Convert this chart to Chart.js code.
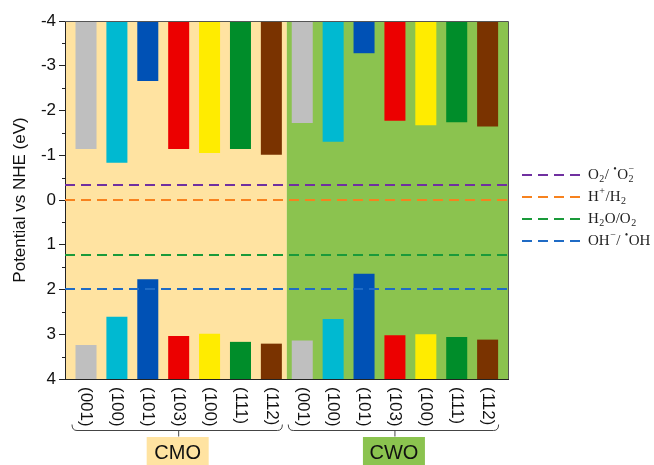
<!DOCTYPE html>
<html>
<head>
<meta charset="utf-8">
<script src="https://cdn.jsdelivr.net/npm/chart.js@4"></script>
<style>
  html, body { margin: 0; padding: 0; background: #fff; }
  #wrap { width: 654px; height: 465px; }
</style>
</head>
<body>
<div id="wrap"><canvas id="myChart" width="654" height="465"></canvas></div>
<script>
// facet labels, CMO first then CWO
const facets = ['(001)', '(100)', '(101)', '(103)', '(100)', '(111)', '(112)',
                '(001)', '(100)', '(101)', '(103)', '(100)', '(111)', '(112)'];
const groups = ['CMO', 'CWO'];
// conduction band edges (eV vs NHE)
const cbEdge = [-1.14, -0.83, -2.66, -1.14, -1.05, -1.14, -1.01,
                -1.72, -1.30, -3.28, -1.77, -1.67, -1.74, -1.64];
// valence band edges
const vbEdge = [3.24, 2.61, 1.77, 3.04, 2.99, 3.17, 3.21,
                3.14, 2.66, 1.65, 3.02, 3.00, 3.06, 3.12];
const yTicks = [-4, -3, -2, -1, 0, 1, 2, 3, 4];
// redox potentials
const potentials = [-0.33, 0, 1.23, 1.99];

const barColors = ['#BFBFBF', '#00B9D1', '#0051B5', '#EC0000', '#FFEC00', '#008D2A', '#7A3300'];
const lineColors = ['#7030A0', '#F7821E', '#1A9A3A', '#1F6BC5'];
const groupColors = ['#FFE3A1', '#8BC34F'];

// legend labels with sub/superscripts
const potentialLabels = [
    [{t: 'O', sub: '2'}, {t: '/ '}, {t: '', sup: '•'}, {t: 'O', sub: '2', sup: '−'}],
    [{t: 'H', sup: '+'}, {t: '/H', sub: '2'}],
    [{t: 'H', sub: '2'}, {t: 'O/O', sub: '2'}],
    [{t: 'OH', sup: '−'}, {t: '/ '}, {t: '', sup: '•'}, {t: 'OH'}]
];

const sans = "'Liberation Sans', Arial, sans-serif";
const serif = "'Liberation Serif', 'DejaVu Serif', serif";

const drawRich = (ctx, parts, x, y, size) => {
    ctx.textBaseline = 'middle';
    ctx.textAlign = 'left';
    parts.forEach((p) => {
        ctx.font = `${size}px ${serif}`;
        ctx.fillText(p.t, x, y);
        x += ctx.measureText(p.t).width;
        let w = 0;
        ctx.font = `${Math.round(size * 0.68)}px ${serif}`;
        if (p.sub) {
            ctx.fillText(p.sub, x + 0.5, y + size * 0.3);
            w = Math.max(w, ctx.measureText(p.sub).width);
        }
        if (p.sup) {
            ctx.fillText(p.sup, x + 0.5, y - size * 0.38);
            w = Math.max(w, ctx.measureText(p.sup).width);
        }
        x += w ? w + 1 : 0;
    });
};

const deco = {
    id: 'deco',
    beforeDraw(chart) {
        const {ctx, chartArea: a, scales: {x}} = chart;
        const split = x.getPixelForValue(6.5);
        ctx.save();
        ctx.fillStyle = groupColors[0];
        ctx.fillRect(a.left, a.top, split - a.left, a.bottom - a.top);
        ctx.fillStyle = groupColors[1];
        ctx.fillRect(split, a.top, a.right - split, a.bottom - a.top);
        ctx.restore();
    },
    afterDatasetsDraw(chart) {
        const {ctx, chartArea: a, scales: {y}} = chart;
        ctx.save();
        ctx.lineWidth = 2;
        ctx.setLineDash([10, 6]);
        potentials.forEach((v, i) => {
            const py = Math.round(y.getPixelForValue(v));
            ctx.strokeStyle = lineColors[i];
            ctx.beginPath();
            ctx.moveTo(a.left, py);
            ctx.lineTo(a.right, py);
            ctx.stroke();
        });
        ctx.restore();
    },
    afterDraw(chart) {
        const {ctx, chartArea: a, scales: {x, y}} = chart;
        ctx.save();

        // top and right frame
        ctx.strokeStyle = '#555';
        ctx.lineWidth = 1;
        ctx.beginPath();
        ctx.moveTo(a.left, a.top + 0.5);
        ctx.lineTo(a.right + 0.5, a.top + 0.5);
        ctx.lineTo(a.right + 0.5, a.bottom);
        ctx.stroke();

        // minor ticks
        ctx.strokeStyle = '#222';
        for (let v = -3.5; v < 4; v += 1) {
            const py = Math.round(y.getPixelForValue(v)) + 0.5;
            ctx.beginPath();
            ctx.moveTo(a.left - 3, py);
            ctx.lineTo(a.left, py);
            ctx.stroke();
        }

        // facet labels, rotated
        ctx.fillStyle = '#111';
        ctx.font = `17px ${sans}`;
        ctx.textBaseline = 'middle';
        ctx.textAlign = 'left';
        facets.forEach((f, i) => {
            ctx.save();
            ctx.translate(x.getPixelForValue(i), a.bottom + 8);
            ctx.rotate(Math.PI / 2);
            ctx.fillText(f, 0, 0);
            ctx.restore();
        });

        // group brackets and boxes
        groups.forEach((g, gi) => {
            const s = gi * 7;
            const x0 = x.getPixelForValue(s) - 14;
            const x1 = x.getPixelForValue(s + 6) + 11;
            const xc = x.getPixelForValue(s + 3);
            const by = 430.5;
            ctx.strokeStyle = '#444';
            ctx.lineWidth = 1;
            ctx.beginPath();
            ctx.moveTo(x0, by - 6);
            ctx.quadraticCurveTo(x0, by, x0 + 5, by);
            ctx.lineTo(x1 - 5, by);
            ctx.quadraticCurveTo(x1, by, x1, by - 6);
            ctx.moveTo(xc, by);
            ctx.lineTo(xc, by + 6);
            ctx.stroke();

            ctx.fillStyle = groupColors[gi];
            ctx.fillRect(xc - 32, 437, 62, 30);
            ctx.fillStyle = '#111';
            ctx.font = `20px ${sans}`;
            ctx.textAlign = 'center';
            ctx.fillText(g, xc - 1, 453);
        });

        // y title
        ctx.save();
        ctx.translate(20, (a.top + a.bottom) / 2);
        ctx.rotate(-Math.PI / 2);
        ctx.font = `17px ${sans}`;
        ctx.textAlign = 'center';
        ctx.fillStyle = '#111';
        ctx.fillText('Potential vs NHE (eV)', 0, 0);
        ctx.restore();

        // legend
        const rowsY = [175, 197, 219, 241];
        potentialLabels.forEach((parts, i) => {
            ctx.strokeStyle = lineColors[i];
            ctx.lineWidth = 2;
            ctx.setLineDash([10, 6]);
            ctx.beginPath();
            ctx.moveTo(522, rowsY[i]);
            ctx.lineTo(580, rowsY[i]);
            ctx.stroke();
            ctx.setLineDash([]);
            ctx.fillStyle = '#222';
            drawRich(ctx, parts, 588, rowsY[i], 15);
        });

        ctx.restore();
    }
};

const drawChart = () => {
    const colors = facets.map((f, i) => barColors[i % barColors.length]);

    const data = {
        datasets: [{
            label: 'CB',
            data: facets.map((f, i) => ({x: i, y: [-4, cbEdge[i]]})),
            backgroundColor: colors,
            grouped: false,
            barPercentage: 0.68,
            categoryPercentage: 1
        }, {
            label: 'VB',
            data: facets.map((f, i) => ({x: i, y: [vbEdge[i], 4]})),
            backgroundColor: colors,
            grouped: false,
            barPercentage: 0.68,
            categoryPercentage: 1
        }]
    };

    const config = {
        type: 'bar',
        data: data,
        options: {
            responsive: false,
            animation: false,
            layout: {padding: {left: 0, top: 21, right: 146, bottom: 86}},
            plugins: {legend: {display: false}, tooltip: {enabled: false}},
            scales: {
                x: {
                    type: 'linear',
                    offset: false,
                    min: -0.68,
                    max: 13.66,
                    ticks: {display: false},
                    grid: {display: false, offset: false},
                    border: {display: true, color: '#222', width: 1},
                    afterFit: (s) => { s.height = 0; }
                },
                y: {
                    reverse: true,
                    min: yTicks[0],
                    max: yTicks[yTicks.length - 1],
                    afterBuildTicks: (s) => { s.ticks = yTicks.map((v) => ({value: v})); },
                    ticks: {
                        color: '#111',
                        font: {family: sans, size: 17},
                        padding: 3
                    },
                    grid: {drawOnChartArea: false, tickLength: 6, color: '#222'},
                    border: {display: true, color: '#222', width: 1},
                    afterFit: (s) => { s.width = 65; }
                }
            }
        },
        plugins: [deco]
    };

    new Chart(document.getElementById('myChart'), config);
};

window.onload = drawChart;
</script>
</body>
</html>
